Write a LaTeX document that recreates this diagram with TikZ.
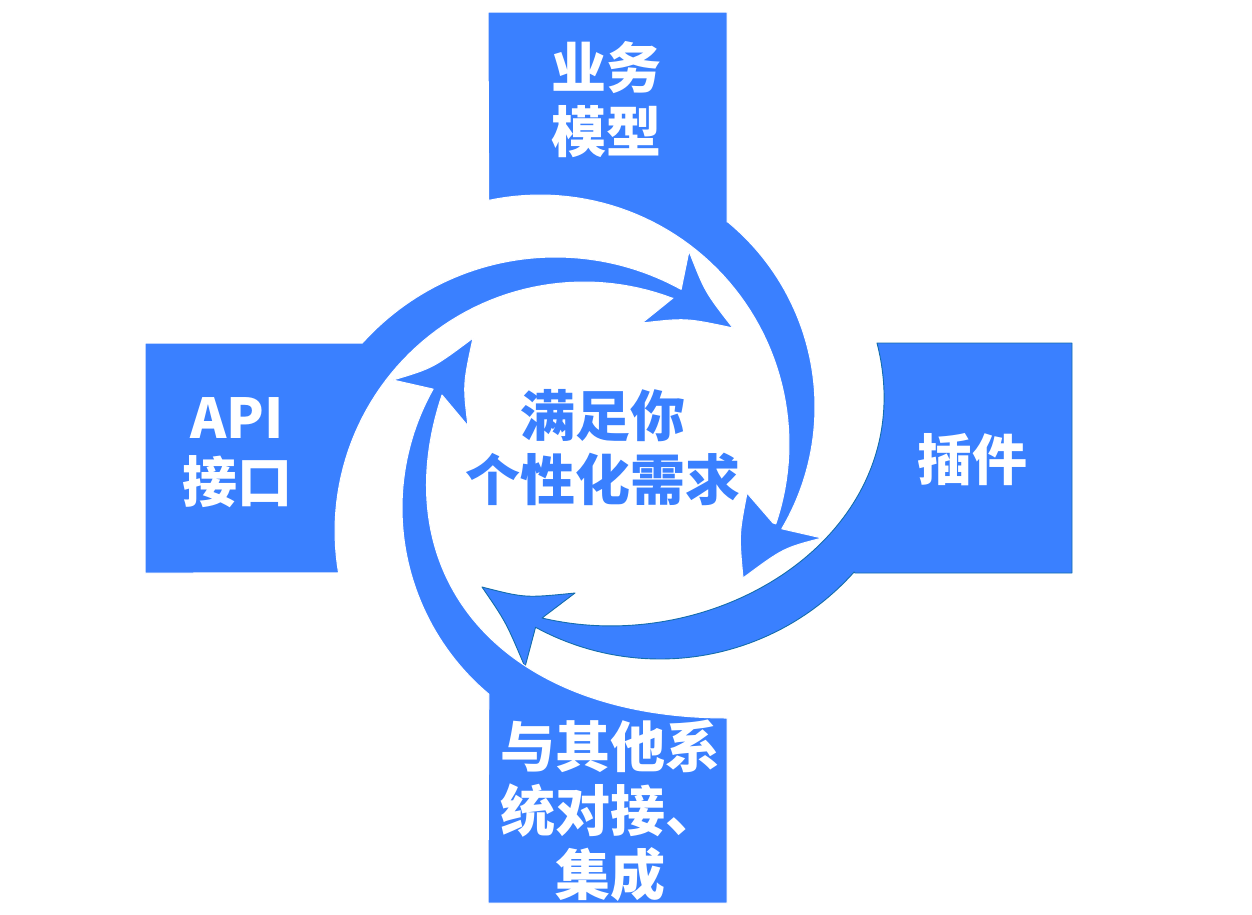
\documentclass[tikz,border=0pt]{standalone}
\usepackage{fontspec}
\newfontfamily\cjk{Noto Sans CJK SC}
\definecolor{blu}{RGB}{58,128,255}
\definecolor{edge}{RGB}{20,110,170}
\begin{document}
\begin{tikzpicture}[x={(1pt,0pt)}, y={(0pt,-1pt)},
  unitw/.style={fill=blu, draw=white, line width=1pt, line join=round},
  unitr/.style={fill=blu, draw=edge, line width=0.9pt, line join=round},
  lbl/.style={text=white, align=center, inner sep=0pt, font=\cjk\bfseries\fontsize{55}{64}\selectfont}]
\fill[white] (0,0) rectangle (1252,914);
\useasboundingbox (0,0) rectangle (1252,914);

% left unit (API) with arrow over the top
\path[unitw] (145,343) -- (362,343)
 -- plot[domain=-138:-61.1, samples=50] ({555.5+260*cos(\x)},{517+260*sin(\x)})
 -- (689,251) .. controls (705,292) .. (733,328) .. controls (686,318) .. (642,323) -- (673,298)
 -- plot[domain=-69.1:-189.7, samples=60] ({584+249*cos(\x)},{531+249*sin(\x)})
 -- (145,573) -- cycle;

% top unit with arrow down the right side
\path[unitw] (488,12) -- (727,12) -- (727,222)
 -- plot[domain=-50.6:30.5, samples=50] ({575+240*cos(\x)},{407+240*sin(\x)})
 -- (822,538) .. controls (783.5,548) .. (743,578) .. controls (739,534.5) .. (747,493) -- (773,523)
 -- plot[domain=18.7:-101.9, samples=60] ({540+249*cos(\x)},{444+249*sin(\x)})
 -- cycle;

% right unit with arrow along the bottom
\path[unitr] (877,343) -- (1072,343) -- (1072,573) -- (855,573)
 -- plot[domain=41.7:118.6, samples=50] ({660+260*cos(\x)},{399+260*sin(\x)})
 -- (525,667) .. controls (506,622) .. (482,587) .. controls (525,598) .. (575,593) -- (542,618)
 .. controls (720,660) and (925,530) .. (877,343) -- cycle;

% bottom unit with arrow up the left side
\path[unitw] (488,903)
 -- plot[domain=130:209.3, samples=50] ({645+243*cos(\x)},{508+243*sin(\x)})
 -- (393,380) .. controls (433,368) .. (473,338) .. controls (463,384.6) .. (468,426) -- (442,395)
 .. controls (382,575) and (500,718) .. (727,718) -- (727,903) -- cycle;

\node[lbl] (tb) at (606.5,100) {业务\\模型};
\node[lbl] (lb) at (237,453) {API\\接口};
\node[lbl] (rb) at (972,460) {插件};
\node[lbl] (bb) at (610,811) {与其他系\\统对接、\\集成};
\node[lbl, text=blu] (cb) at (603,448) {满足你\\个性化需求};
\end{tikzpicture}
\end{document}
